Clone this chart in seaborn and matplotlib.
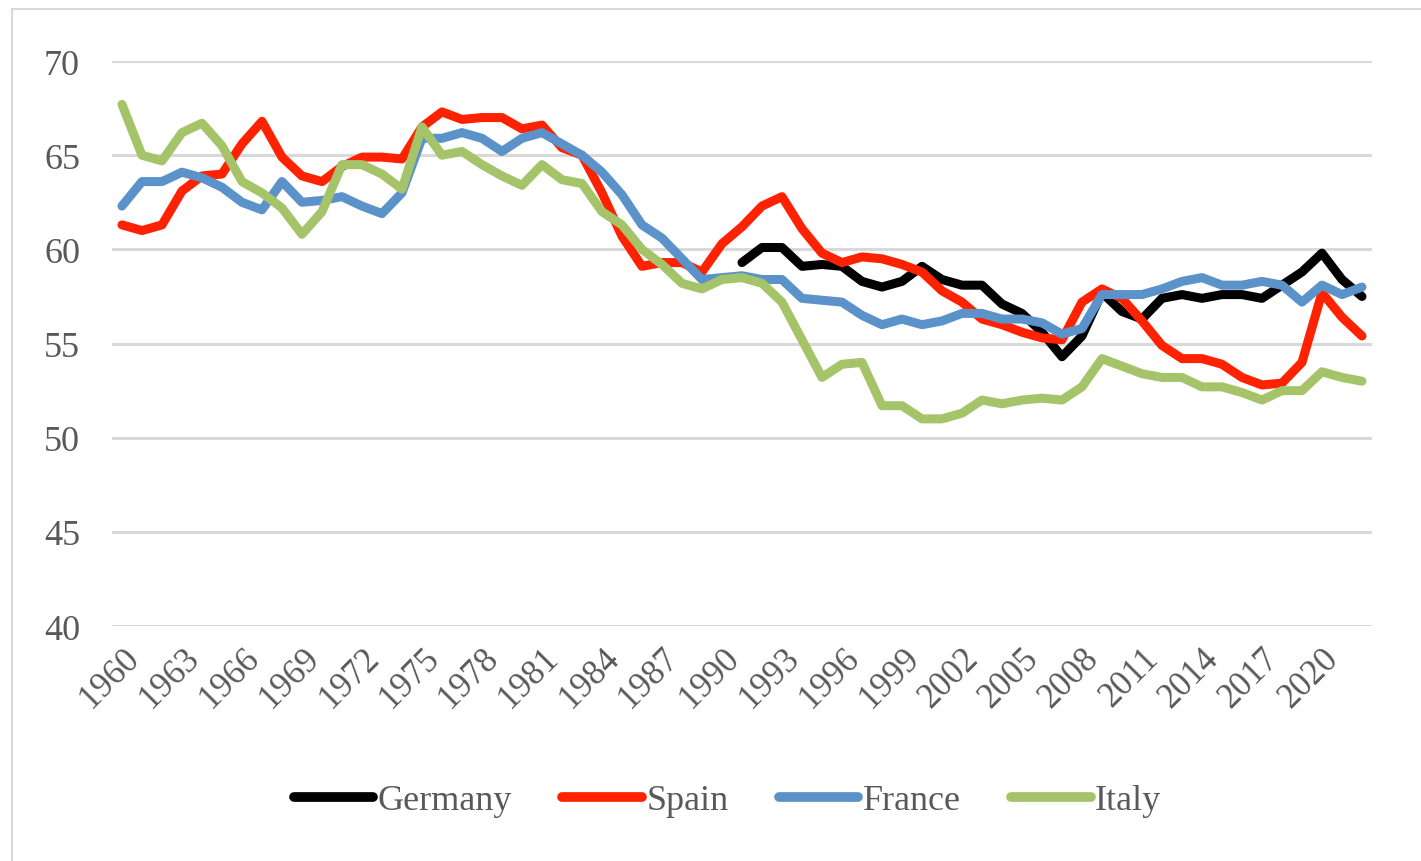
import matplotlib
matplotlib.use('Agg')
import matplotlib.pyplot as plt
import seaborn as sns
import numpy as np
import pandas as pd

years = list(range(1960, 2023))

germany = [np.nan] * 31 + [
    59.3, 60.1, 60.1, 59.1, 59.2, 59.1, 58.3, 58.0, 58.3, 59.1,
    58.4, 58.1, 58.1, 57.1, 56.6, 55.6, 54.3, 55.4, 57.7, 56.7,
    56.3, 57.4, 57.6, 57.4, 57.6, 57.6, 57.4, 58.1, 58.8, 59.8,
    58.4, 57.5]

spain = [
    61.3, 61.0, 61.3, 63.1, 63.9, 64.0, 65.6, 66.8, 64.9, 63.9,
    63.6, 64.4, 64.9, 64.9, 64.8, 66.5, 67.3, 66.9, 67.0, 67.0,
    66.4, 66.6, 65.4, 65.0, 63.0, 60.7, 59.1, 59.3, 59.3, 58.8,
    60.3, 61.2, 62.3, 62.8, 61.1, 59.8, 59.3, 59.6, 59.5, 59.2,
    58.8, 57.8, 57.2, 56.3, 56.0, 55.6, 55.3, 55.2, 57.2, 57.9,
    57.4, 56.2, 54.9, 54.2, 54.2, 53.9, 53.2, 52.8, 52.9, 54.0,
    57.7, 56.4, 55.4]

france = [
    62.3, 63.6, 63.6, 64.1, 63.8, 63.3, 62.5, 62.1, 63.6, 62.5,
    62.6, 62.8, 62.3, 61.9, 63.0, 65.9, 65.9, 66.2, 65.9, 65.2,
    65.9, 66.2, 65.6, 65.0, 64.1, 62.9, 61.3, 60.6, 59.5, 58.4,
    58.5, 58.6, 58.4, 58.4, 57.4, 57.3, 57.2, 56.5, 56.0, 56.3,
    56.0, 56.2, 56.6, 56.6, 56.3, 56.3, 56.1, 55.5, 55.8, 57.6,
    57.6, 57.6, 57.9, 58.3, 58.5, 58.1, 58.1, 58.3, 58.1, 57.2,
    58.1, 57.6, 58.0]

italy = [
    67.7, 65.0, 64.7, 66.2, 66.7, 65.5, 63.6, 63.0, 62.2, 60.8,
    62.0, 64.5, 64.5, 64.0, 63.2, 66.5, 65.0, 65.2, 64.5, 63.9,
    63.4, 64.5, 63.7, 63.5, 62.0, 61.3, 60.0, 59.2, 58.2, 57.9,
    58.4, 58.5, 58.2, 57.2, 55.2, 53.2, 53.9, 54.0, 51.7, 51.7,
    51.0, 51.0, 51.3, 52.0, 51.8, 52.0, 52.1, 52.0, 52.7, 54.2,
    53.8, 53.4, 53.2, 53.2, 52.7, 52.7, 52.4, 52.0, 52.5, 52.5,
    53.5, 53.2, 53.0]

countries = ['Germany', 'Spain', 'France', 'Italy']
colors = {'Germany': '#000000', 'Spain': '#FF2200',
          'France': '#5B92C9', 'Italy': '#A5C46A'}

df = pd.DataFrame({'Germany': germany, 'Spain': spain,
                   'France': france, 'Italy': italy}, index=years)
df.index.name = 'year'
long = df.reset_index().melt(id_vars='year', var_name='country', value_name='value').dropna()

sns.set_style('white')
plt.rcParams['font.family'] = ['Liberation Serif', 'DejaVu Serif']
txt = '#595959'

fig = plt.figure(figsize=(14.21, 8.62), dpi=100)
ax = fig.add_axes([0.0788, 0.2726, 0.8867, 0.6554])

sns.lineplot(data=long, x='year', y='value', hue='country', hue_order=countries,
             palette=colors, linewidth=6.5, ax=ax, legend=True)

ax.set_xlim(1959.5, 2022.5)
ax.set_ylim(40, 70)
ax.set_yticks(range(40, 71, 5))
ax.set_xticks(range(1960, 2022, 3))
ax.set_xticklabels([str(y) for y in range(1960, 2022, 3)], rotation=45,
                   ha='right', va='top', rotation_mode='anchor')
ax.tick_params(axis='x', length=0, pad=11, labelsize=25, labelcolor=txt)
ax.tick_params(axis='y', length=0, pad=23, labelsize=26, labelcolor=txt)
ax.grid(axis='y', color='#D9D9D9', linewidth=2.2)
ax.grid(axis='x', visible=False)
ax.set_axisbelow(True)
for s in ax.spines.values():
    s.set_visible(False)
ax.set_xlabel('')
ax.set_ylabel('')

h, l = ax.get_legend_handles_labels()
ax.get_legend().remove()
leg = fig.legend(h, l, loc='center', bbox_to_anchor=(0.512, 0.07), ncol=4,
                 frameon=False, fontsize=26, handlelength=2.2, handletextpad=0.12,
                 columnspacing=1.4)
for line in leg.get_lines():
    line.set_linewidth(7)
    line.set_solid_capstyle('round')
for t in leg.get_texts():
    t.set_color(txt)

# chart-area border (left and top visible)
fig.add_artist(plt.Line2D([12 / 1421, 12 / 1421], [0, 1 - 10 / 862],
                          transform=fig.transFigure, color='#D9D9D9', linewidth=1.5))
fig.add_artist(plt.Line2D([12 / 1421, 1], [1 - 10 / 862, 1 - 10 / 862],
                          transform=fig.transFigure, color='#D9D9D9', linewidth=1.5))

fig.savefig('out.png', dpi=100)
